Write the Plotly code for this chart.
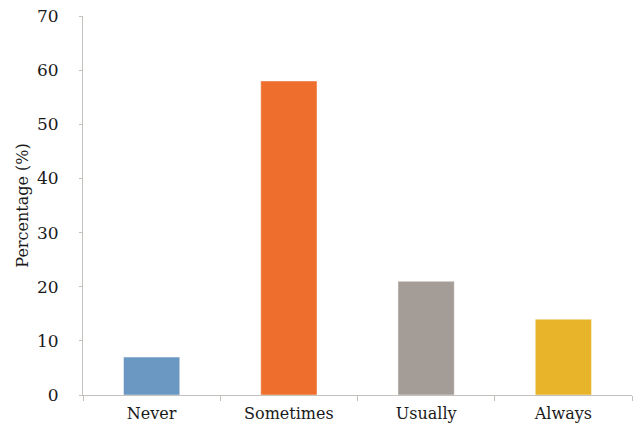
import plotly.graph_objects as go

# Survey responses
categories = ["Never", "Sometimes", "Usually", "Always"]
percentages = [7, 58, 21, 14]
bar_colors = ["#6a98c2", "#ee6e2e", "#a39c97", "#e8b52a"]

font_family = "DejaVu Serif"
axis_color = "#c4c0bc"

fig = go.Figure(
    go.Bar(
        x=categories,
        y=percentages,
        width=0.41,
        marker=dict(color=bar_colors, line=dict(color="rgba(255,255,255,0.45)", width=1)),
        hoverinfo="x+y",
    )
)

fig.update_layout(
    width=635,
    height=428,
    margin=dict(l=83, r=3, t=16, b=33),
    paper_bgcolor="white",
    plot_bgcolor="white",
    showlegend=False,
    font=dict(family=font_family, size=16, color="#1a1a1a"),
)

fig.update_xaxes(
    range=[-0.5, 3.5],
    showline=True,
    linecolor=axis_color,
    linewidth=1,
    ticks="outside",
    tickson="boundaries",
    ticklen=5,
    tickcolor=axis_color,
    ticklabelstandoff=4,
    showgrid=False,
    tickfont=dict(family=font_family, size=16),
)

fig.update_yaxes(
    range=[0, 70],
    dtick=10,
    showline=True,
    linecolor=axis_color,
    linewidth=1,
    ticks="outside",
    ticklen=3,
    tickcolor=axis_color,
    ticklabelstandoff=17,
    showgrid=False,
    zeroline=False,
    tickfont=dict(family=font_family, size=17),
    title=dict(text="Percentage (%)", font=dict(family=font_family, size=16), standoff=4),
)

fig.write_html("out.html")
